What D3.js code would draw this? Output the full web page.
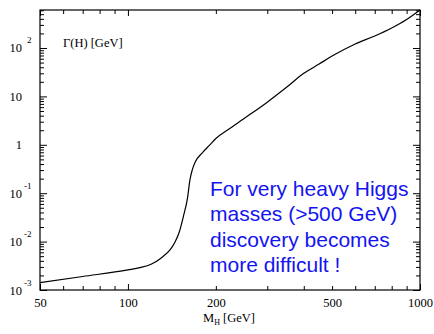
<!DOCTYPE html>
<html>
<head>
<meta charset="utf-8">
<script src="https://cdn.jsdelivr.net/npm/d3@7"></script>
<style>
  body { margin: 0; background: #fff; }
  svg { display: block; }
  .axis text { font-family: "Liberation Serif", "Times New Roman", serif; font-size: 12.5px; fill: #000; }
  .axis path, .axis line { stroke: #000; stroke-width: 1; }
</style>
</head>
<body>
<div id="wrapper"></div>
<script>
// Higgs mass [GeV] and total width [GeV]
const masses = [50, 70, 100, 110, 120, 130, 140, 145, 150, 155, 160, 163, 166, 170, 180, 190, 200, 220, 250, 300, 350, 400, 450, 500, 600, 700, 800, 900, 1000]
const widths = [0.00142, 0.0019, 0.0026, 0.0029, 0.0034, 0.0046, 0.0070, 0.0098, 0.016, 0.034, 0.08, 0.187, 0.30, 0.44, 0.69, 0.97, 1.35, 2.05, 3.5, 7.6, 15.6, 30, 46, 68, 121, 177, 259, 388, 610]

const xMajorTicks = [50, 100, 1000]
const xMinorTicks = [60, 70, 80, 90, 200, 300, 400, 500, 600, 700, 800, 900]
const xLabels = [50, 100, 200, 500, 1000]
const yDecades = [1e-3, 1e-2, 1e-1, 1, 10, 100]
const yLabels = [["10", "-3"], ["10", "-2"], ["10", "-1"], ["1", ""], ["10", ""], ["10", "2"]]
const noteLines = ["For very heavy Higgs", "masses (>500 GeV)", "discovery becomes", "more difficult !"]

function drawChart() {
  let dimensions = {
    width: 434,
    height: 334,
    margin: { top: 10, right: 14, bottom: 44, left: 40 },
  }
  dimensions.boundedWidth = dimensions.width - dimensions.margin.left - dimensions.margin.right
  dimensions.boundedHeight = dimensions.height - dimensions.margin.top - dimensions.margin.bottom

  const wrapper = d3.select("#wrapper")
    .append("svg")
    .attr("width", dimensions.width)
    .attr("height", dimensions.height)

  const bounds = wrapper.append("g")
    .attr("transform", `translate(${dimensions.margin.left},${dimensions.margin.top})`)

  const xScale = d3.scaleLog()
    .domain([50, 1000])
    .range([0, dimensions.boundedWidth])

  const yScale = d3.scaleLog()
    .domain([1e-3, Math.pow(10, 2.785)])
    .range([dimensions.boundedHeight, 0])

  // minor y ticks: 2..9 in every decade
  const yMinorTicks = []
  yDecades.forEach(d => {
    for (let k = 2; k <= 9; k++) {
      const v = d * k
      if (v < yScale.domain()[1]) yMinorTicks.push(v)
    }
  })

  const H = dimensions.boundedHeight
  const W = dimensions.boundedWidth

  // ticks pointing inward on all four sides
  const tickAxes = [
    [d3.axisBottom(xScale).tickValues(xMajorTicks).tickSize(-6), `translate(0,${H})`],
    [d3.axisBottom(xScale).tickValues(xMinorTicks).tickSize(-4), `translate(0,${H})`],
    [d3.axisTop(xScale).tickValues(xMajorTicks).tickSize(-6), null],
    [d3.axisTop(xScale).tickValues(xMinorTicks).tickSize(-4), null],
    [d3.axisLeft(yScale).tickValues(yDecades).tickSize(-7), null],
    [d3.axisLeft(yScale).tickValues(yMinorTicks).tickSize(-4), null],
    [d3.axisRight(yScale).tickValues(yDecades).tickSize(-7), `translate(${W},0)`],
    [d3.axisRight(yScale).tickValues(yMinorTicks).tickSize(-4), `translate(${W},0)`],
  ]
  tickAxes.forEach(([gen, tr]) => {
    const g = bounds.append("g").attr("class", "axis")
    if (tr) g.attr("transform", tr)
    g.call(gen.tickFormat("").tickSizeOuter(0))
    g.select(".domain").remove()
  })

  // x labels
  bounds.append("g")
    .attr("class", "axis")
    .attr("transform", `translate(0,${H})`)
    .call(d3.axisBottom(xScale).tickValues(xLabels).tickSize(0).tickPadding(8).tickFormat(d3.format("d")))
    .call(g => g.select(".domain").remove())
    .call(g => g.selectAll("text").attr("fill", "#000"))

  // y labels with superscript exponents
  const yAxisLabels = bounds.append("g")
    .attr("class", "axis")
    .call(d3.axisLeft(yScale).tickValues(yDecades).tickSize(0).tickFormat(""))
  yAxisLabels.select(".domain").remove()
  yAxisLabels.selectAll(".tick").each(function (d, i) {
    const t = d3.select(this)
    t.select("text").remove()
    t.append("text")
      .attr("x", -18)
      .attr("y", 4)
      .attr("fill", "#000")
      .attr("text-anchor", "end")
      .text(yLabels[i][0])
    if (yLabels[i][1]) {
      t.append("text")
        .attr("x", yLabels[i][1].length > 1 ? -16 : -13)
        .attr("y", -5)
        .attr("fill", "#000")
        .attr("text-anchor", "start")
        .style("font-size", "9px")
        .text(yLabels[i][1])
    }
  })

  // frame
  bounds.append("rect")
    .attr("width", W)
    .attr("height", H)
    .attr("fill", "none")
    .attr("stroke", "#000")
    .attr("stroke-width", 1.2)

  // width curve
  const lineGen = d3.line()
    .x((d, i) => xScale(masses[i]))
    .y((d, i) => yScale(widths[i]))
    .curve(d3.curveMonotoneX)

  bounds.append("path")
    .datum(widths)
    .attr("d", lineGen)
    .attr("fill", "none")
    .attr("stroke", "#000")
    .attr("stroke-width", 1.2)

  // axis titles
  wrapper.append("text")
    .attr("x", 63)
    .attr("y", 47)
    .style("font-family", "'Liberation Serif', serif")
    .style("font-size", "12.5px")
    .text("Γ(H) [GeV]")

  const xTitle = wrapper.append("text")
    .attr("x", 203)
    .attr("y", 322)
    .style("font-family", "'Liberation Serif', serif")
    .style("font-size", "12.5px")
  xTitle.append("tspan").text("M")
  xTitle.append("tspan").attr("dy", 3).style("font-size", "8px").text("H")
  xTitle.append("tspan").attr("dy", -3).text(" [GeV]")

  // note
  wrapper.append("text")
    .attr("x", 210)
    .attr("y", 196)
    .style("font-family", "'Liberation Sans', Arial, sans-serif")
    .style("font-size", "21px")
    .attr("fill", "#1414f0")
    .selectAll("tspan")
    .data(noteLines)
    .join("tspan")
    .attr("x", 210)
    .attr("dy", (d, i) => i === 0 ? 0 : 25.4)
    .text(d => d)
}
drawChart()
</script>
</body>
</html>
